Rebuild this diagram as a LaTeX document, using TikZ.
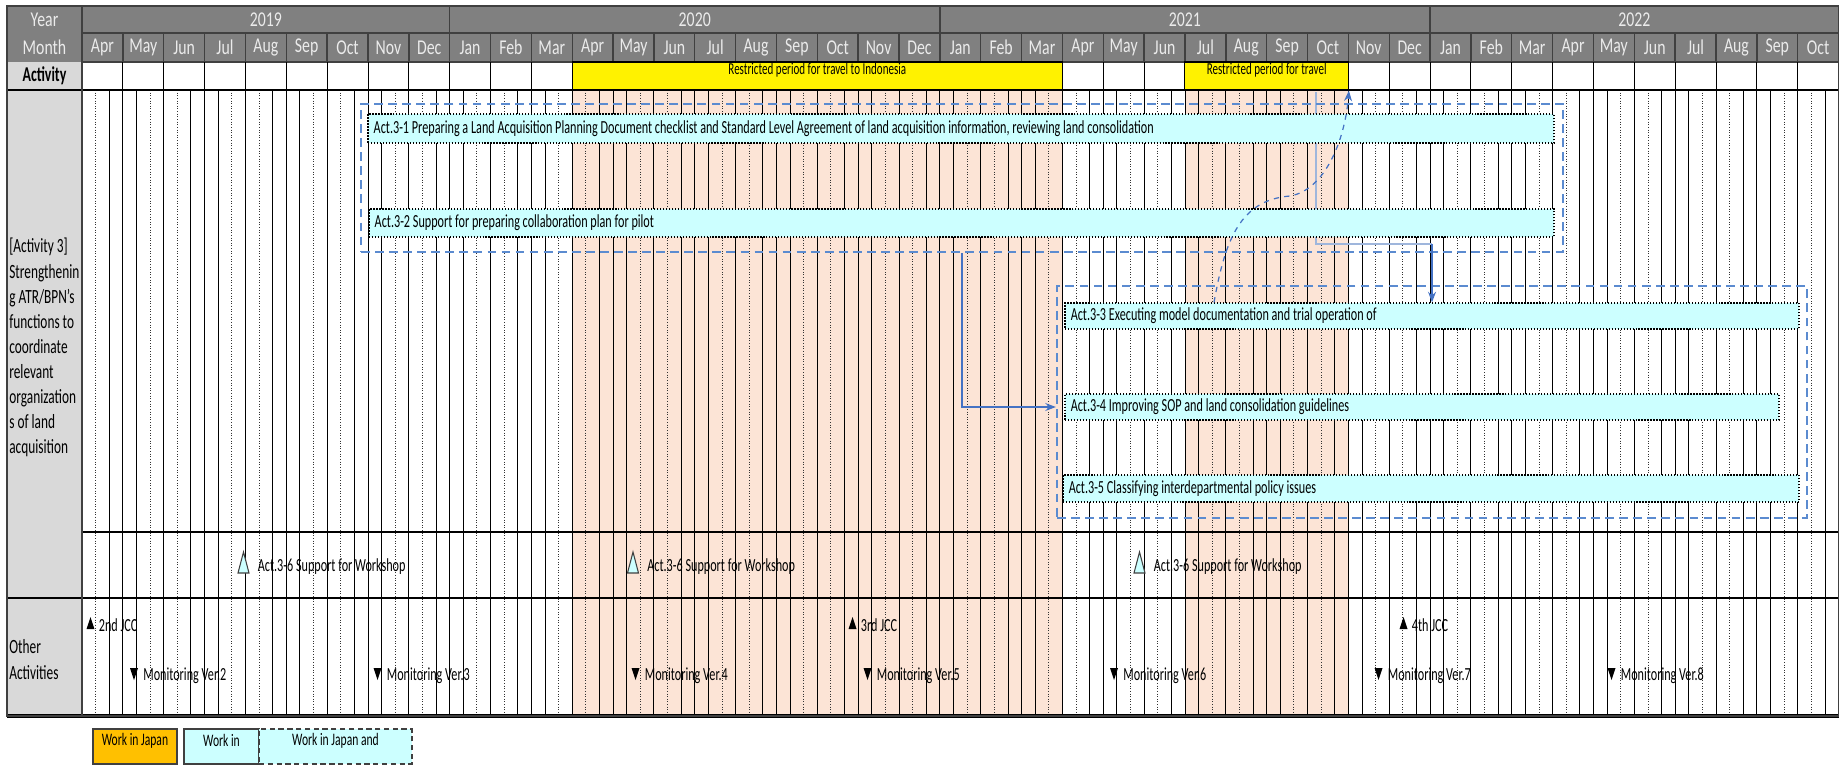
\documentclass[tikz,border=0pt]{standalone}
\usepackage{fontspec}
\setmainfont{Carlito}[FakeStretch=0.66]
\newfontfamily\hdrfont{Carlito}[FakeStretch=0.75]
\usepackage{xcolor}
\usetikzlibrary{arrows.meta, positioning, fit}

\definecolor{hdrgray}{HTML}{808080}
\definecolor{hdrline}{HTML}{404040}
\definecolor{lblgray}{HTML}{D9D9D9}
\definecolor{peach}{HTML}{FCE4D6}
\definecolor{barcyan}{HTML}{CCFFFF}
\definecolor{frameblue}{HTML}{5B8BD0}
\definecolor{linkblue}{HTML}{4472C4}
\definecolor{paleblue}{HTML}{9FB6DC}
\definecolor{jpnorange}{HTML}{FFC000}

% activity bar: name, x1, y1, x2, y2, text
\newcommand{\actbar}[6]{%
  \node[actbar, fit={(#2,#3) (#4,#5)}] (#1) {};
  \node[bartext] (#1t) at ([xshift=0.12cm]#1.west) {#6};}
% milestone up / down: name, x, y, text
\newcommand{\mileup}[4]{%
  \fill (#2-4,#3+6) -- (#2+4,#3+6) -- (#2,#3-6) -- cycle;
  \node[mstext] (#1) at (#2+8,#3+2) {#4};}
\newcommand{\miledown}[4]{%
  \fill (#2-4,#3-6) -- (#2+4,#3-6) -- (#2,#3+6) -- cycle;
  \node[mstext] (#1) at (#2+9,#3+2) {#4};}
\newcommand{\workshop}[3]{%
  \draw[hdrline, fill=barcyan, line width=0.6pt] (#2-5.5,#3+10.5) -- (#2+5.5,#3+10.5) -- (#2,#3-10.5) -- cycle;
  \node[mstext] (#1) at (#2+14,#3+4) {Act.3-6 Support for Workshop};}

\begin{document}
\begin{tikzpicture}[
    x=0.02cm, y=-0.02cm,
    hdrcell/.style={draw=hdrline, line width=0.8pt},
    hdrtext/.style={font=\hdrfont\fontsize{12}{14}\selectfont, text=white!92!black, inner sep=0},
    gridsolid/.style={black, line width=0.5pt},
    griddot/.style={black!80, line width=0.5pt, densely dotted},
    actbar/.style={draw=black, densely dotted, line width=0.7pt, fill=barcyan, inner sep=0},
    bartext/.style={anchor=west, inner sep=0, font=\fontsize{10.5}{12}\selectfont},
    mstext/.style={anchor=west, inner sep=0, font=\fontsize{10.5}{12}\selectfont},
    frame/.style={draw=frameblue, dashed, dash pattern=on 5pt off 3pt, line width=1.3pt, inner sep=0},
    yelbox/.style={draw=black, line width=0.6pt, fill=yellow, inner sep=0, font=\fontsize{9.5}{12}\selectfont},
    link/.style={linkblue, line width=0.8pt, -{Stealth[length=6pt,width=4.5pt]}},
    legbox/.style={draw=hdrline, line width=0.8pt, inner sep=0, font=\fontsize{10}{12}\selectfont}
]
\useasboundingbox (0,0) rectangle (1841,765);

% Header rows
\fill[hdrgray] (7,6) rectangle (1838.5,62);
\fill[lblgray] (7,62) rectangle (82,716);
\node[hdrtext] (year) at (44.5,19.5) {Year};
\node[hdrtext] (month) at (44.5,47.5) {Month};
\node[font=\bfseries\fontsize{12}{14}\selectfont, inner sep=0] (act) at (44.5,76) {Activity};
\foreach \ya/\yb/\yt in {82/449.65/2019, 449.65/939.85/2020, 939.85/1430.05/2021, 1430.05/1838.55/2022}{
  \draw[hdrcell] (\ya,6) rectangle (\yb,33);
  \node[hdrtext] (y\yt) at ({(\ya+\yb)/2},19.5) {\yt};
}
\foreach \mn [count=\i from 0] in {Apr,May,Jun,Jul,Aug,Sep,Oct,Nov,Dec,Jan,Feb,Mar,Apr,May,Jun,Jul,Aug,Sep,Oct,Nov,Dec,Jan,Feb,Mar,Apr,May,Jun,Jul,Aug,Sep,Oct,Nov,Dec,Jan,Feb,Mar,Apr,May,Jun,Jul,Aug,Sep,Oct}{
  \draw[hdrcell] ({82+\i*40.85},33) rectangle ++(40.85,29);
  \node[hdrtext] (m\i) at ({82+(\i+0.5)*40.85},47.5) {\mn};
  \draw[gridsolid] ({82+\i*40.85},62) -- ++(0,28);
}

% Restricted periods
\fill[peach] (572.2,90) rectangle (1062.4,716);
\fill[peach] (1184.95,90) rectangle (1348.35,716);
\node[yelbox, fit={(572.2,62) (1062.4,90)}] (r1) {Restricted period for travel to Indonesia};
\node[yelbox, fit={(1184.95,62) (1348.35,90)}] (r2) {Restricted period for travel};

% Grid (three sub-columns per month)
\foreach \m in {0,...,42}{
  \draw[gridsolid] ({82+\m*40.85},90) -- ++(0,626);
  \foreach \j in {1,2}{
    \pgfmathtruncatemacro{\gp}{mod(\m+\j,2)}
    \ifnum\gp=1
      \draw[griddot] ({82+(\m+\j/3)*40.85},90) -- ++(0,626);
    \else
      \draw[gridsolid] ({82+(\m+\j/3)*40.85},90) -- ++(0,626);
    \fi
  }
}

% Row lines
\draw[gridsolid, line width=0.8pt] (7,90) -- (1838.5,90);
\draw[gridsolid, line width=0.8pt] (82,532) -- (1838.5,532);
\draw[black, line width=1.4pt] (7,598) -- (1838.5,598);
\draw[black, line width=1.8pt] (7,716) -- (1838.5,716);
\draw[hdrline, line width=0.8pt] (82,6) -- (82,716);
\draw[hdrline, line width=1pt] (7,6) rectangle (1838.5,716);

% Left labels
\node[anchor=north west, align=left, inner sep=0, font=\fontsize{11.5}{14.3}\selectfont] (lbl3) at (9,238)
  {[Activity 3]\\Strengthenin\\g ATR/BPN's\\functions to\\coordinate\\relevant\\organization\\s of land\\acquisition};
\node[anchor=north west, align=left, inner sep=0, font=\fontsize{11.5}{14.8}\selectfont] (lblo) at (9,639)
  {Other\\Activities};

% Connectors behind bars
\coordinate (top1) at (1316,92);
\coordinate (k2) at (1432,244);
\coordinate (k3) at (962,0);
\coordinate (cv) at (1214,0);
\draw[paleblue, line width=0.9pt] (top1) |- (k2);

% Activity bars
\actbar{a31}{368}{114}{1554}{143}{Act.3-1 Preparing a Land Acquisition Planning Document checklist and Standard Level Agreement of land acquisition information, reviewing land consolidation}
\actbar{a32}{369}{209}{1554}{237}{Act.3-2 Support for preparing collaboration plan for pilot}
\actbar{a33}{1065}{303}{1799}{329}{Act.3-3 Executing model documentation and trial operation of}
\actbar{a34}{1065}{394}{1779}{420}{Act.3-4 Improving SOP and land consolidation guidelines}
\actbar{a35}{1063}{475}{1799}{502}{Act.3-5 Classifying interdepartmental policy issues}

% Groups
\node[frame, fit={(361,104) (1563,252)}] (f1) {};
\node[frame, fit={(1057,286) (1807,518)}] (f2) {};

% Links
\draw[link] (k2) -- (a33.north -| k2);
\draw[link] (f1.south -| k3) |- (f2.west |- a34.west);
\draw[link, dashed, line width=0.7pt] (a33.north -| cv) .. controls (1225,240) and (1240,200) .. (1290,196)
  .. controls (1325,190) and (1345,140) .. (r2.south east);

% Workshops
\workshop{w1}{243.5}{562.5}
\workshop{w2}{633}{562.5}
\workshop{w3}{1139.5}{562.5}

% Other activities
\mileup{j2}{90.5}{623}{2nd JCC}
\mileup{j3}{852.5}{623}{3rd JCC}
\mileup{j4}{1403.5}{623}{4th JCC}
\miledown{v2}{134}{674}{Monitoring Ver.2}
\miledown{v3}{377.5}{674}{Monitoring Ver.3}
\miledown{v4}{635.5}{674}{Monitoring Ver.4}
\miledown{v5}{867.5}{674}{Monitoring Ver.5}
\miledown{v6}{1114}{674}{Monitoring Ver.6}
\miledown{v7}{1378.5}{674}{Monitoring Ver.7}
\miledown{v8}{1611.5}{674}{Monitoring Ver.8}

% Legend
\node[legbox, fill=jpnorange, fit={(93,729) (177,764)}] (lg1) {Work in Japan};
\node[legbox, fill=barcyan, fit={(184,729) (259,764)}] (lg2) {Work in};
\node[legbox, fill=barcyan, densely dashed, fit={(259,729) (412,764)}] (lg3) {Work in Japan and};

\end{tikzpicture}
\end{document}
